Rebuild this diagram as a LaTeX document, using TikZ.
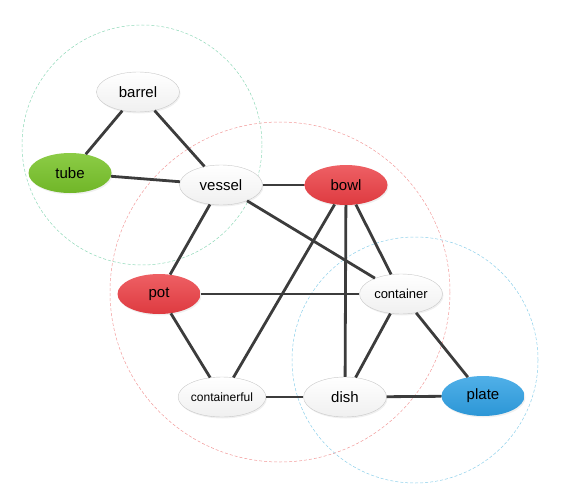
\documentclass[tikz,border=0pt]{standalone}
\usepackage{fontspec}
\setmainfont{Liberation Sans}
\usetikzlibrary{shapes.geometric,shadows}

\definecolor{edgegray}{HTML}{3C3C3C}
\definecolor{nodeline}{HTML}{C8C8C8}
\definecolor{ringgreen}{HTML}{8FD9B8}
\definecolor{ringred}{HTML}{F29A9A}
\definecolor{ringblue}{HTML}{8CCFEA}
\definecolor{greentop}{RGB}{140,204,70}
\definecolor{greenbot}{RGB}{112,182,40}
\definecolor{redtop}{RGB}{238,96,100}
\definecolor{redbot}{RGB}{222,58,64}
\definecolor{bluetop}{RGB}{80,176,232}
\definecolor{bluebot}{RGB}{44,150,214}

\begin{document}
\begin{tikzpicture}[
    x=1pt, y=-1pt,
    word/.style={
      ellipse,
      draw=nodeline,
      inner sep=0pt,
      minimum width=83pt,
      minimum height=40pt,
      top color=white,
      bottom color=black!6,
      drop shadow={opacity=0.12, shadow xshift=1pt, shadow yshift=-1.5pt},
      font=\fontsize{15}{17}\selectfont
    },
    greenword/.style={word, top color=greentop, bottom color=greenbot, draw=none},
    redword/.style={word, top color=redtop, bottom color=redbot, draw=none},
    blueword/.style={word, top color=bluetop, bottom color=bluebot, draw=none},
    ring/.style={dash pattern=on 3pt off 2pt, line width=0.5pt},
    link/.style={draw=edgegray, line width=2.8pt}
  ]
    \useasboundingbox (0,0) rectangle (562,487);

    % groups
    \draw[ring, ringgreen] (142,145) circle (120);
    \draw[ring, ringred] (280,292) circle (170);
    \draw[ring, ringblue] (415,360) circle (123);

    \node[word] (barrel) at (138,92) {barrel};
    \node[greenword] (tube) at (70,173) {tube};
    \node[word] (vessel) at (221,185) {vessel};
    \node[redword] (bowl) at (346,185) {bowl};
    \node[redword] (pot) at (159,294) {pot};
    \node[word, font=\fontsize{13}{15}\selectfont] (container) at (401,294) {container};
    \node[word, font=\fontsize{12}{14}\selectfont] (containerful) at (222,397) {containerful};
    \node[word] (dish) at (345,397) {dish};
    \node[blueword] (plate) at (483,396) {plate};

    \draw[link] (barrel) -- (tube);
    \draw[link] (barrel) -- (vessel);
    \draw[link] (tube) -- (vessel);
    \draw[link] (vessel) -- (bowl);
    \draw[link] (vessel) -- (pot);
    \draw[link] (vessel) -- (container);
    \draw[link] (bowl) -- (containerful);
    \draw[link] (bowl) -- (dish);
    \draw[link] (bowl) -- (container);
    \draw[link] (pot) -- (container);
    \draw[link] (pot) -- (containerful);
    \draw[link] (containerful) -- (dish);
    \draw[link] (container) -- (dish);
    \draw[link] (container) -- (plate);
    \draw[link] (dish) -- (plate);
  \end{tikzpicture}
\end{document}
